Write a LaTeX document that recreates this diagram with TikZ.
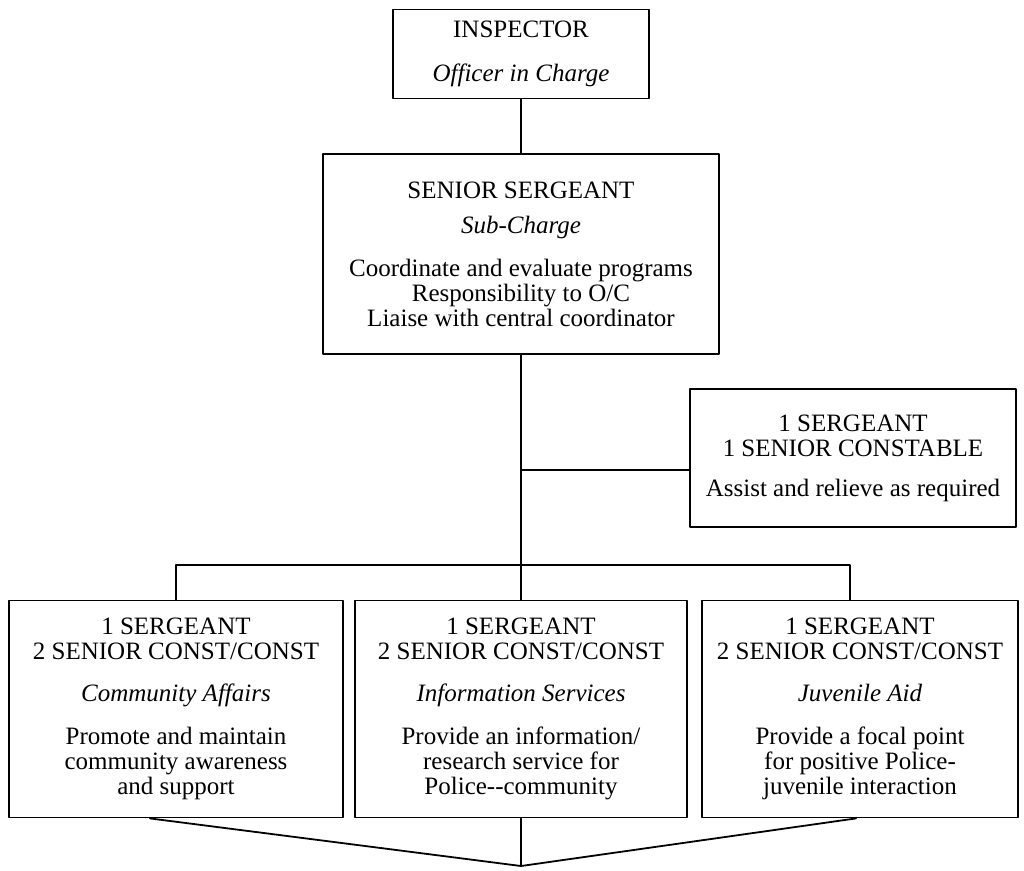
\documentclass[tikz,border=0pt]{standalone}
\usepackage{fontspec}
\setmainfont{Liberation Serif}
\begin{document}
\begin{tikzpicture}[x=1pt, y=-1pt, line width=1.8pt, line join=round, line cap=round,
	font=\fontsize{25}{25}\selectfont,
	unit/.style={draw, align=center, inner sep=0pt, minimum width=#1},
	unit/.default=330]
	\useasboundingbox (0,0) rectangle (1024,870);
	% positions are picture pixels, y running down
	\node[unit=256, minimum height=89] (insp) at (521,54)
		{INSPECTOR\\[19pt]\textit{Officer in Charge}};
	\node[unit=396, minimum height=200] (subc) at (521,254)
		{SENIOR SERGEANT\\[10pt]\textit{Sub-Charge}\\[18pt]Coordinate and evaluate programs\\Responsibility to O/C\\Liaise with central coordinator};
	\node[unit=326, minimum height=138] (relief) at (853,458)
		{1 SERGEANT\\1 SENIOR CONSTABLE\\[15pt]Assist and relieve as required};
	\node[unit=334, minimum height=217] (comm) at (176,709)
		{1 SERGEANT\\2 SENIOR CONST/CONST\\[17pt]\textit{Community Affairs}\\[18pt]Promote and maintain\\community awareness\\and support};
	\node[unit=332, minimum height=217] (info) at (521,709)
		{1 SERGEANT\\2 SENIOR CONST/CONST\\[17pt]\textit{Information Services}\\[18pt]Provide an information/\\research service for\\Police{-}{-}community};
	\node[unit=316, minimum height=217] (juv) at (860,709)
		{1 SERGEANT\\2 SENIOR CONST/CONST\\[17pt]\textit{Juvenile Aid}\\[18pt]Provide a focal point\\for positive Police-\\juvenile interaction};
	\path
	(521,470) coordinate (tee)
	(521,565) coordinate (bus)
	(521,866) coordinate (apex)
	([xshift=-10pt]juv.north) coordinate (juvtop)
	([xshift=-26pt]comm.south) coordinate (commfoot)
	([xshift=-4pt]juv.south) coordinate (juvfoot)
	;
	\draw (insp)--(subc)--(info) (tee)--(tee -| relief.west)
	(comm.north) |- (bus) -| (juvtop)
	;
	\draw (commfoot)--(apex)--(juvfoot) (info.south)--(apex);
\end{tikzpicture}
\end{document}
